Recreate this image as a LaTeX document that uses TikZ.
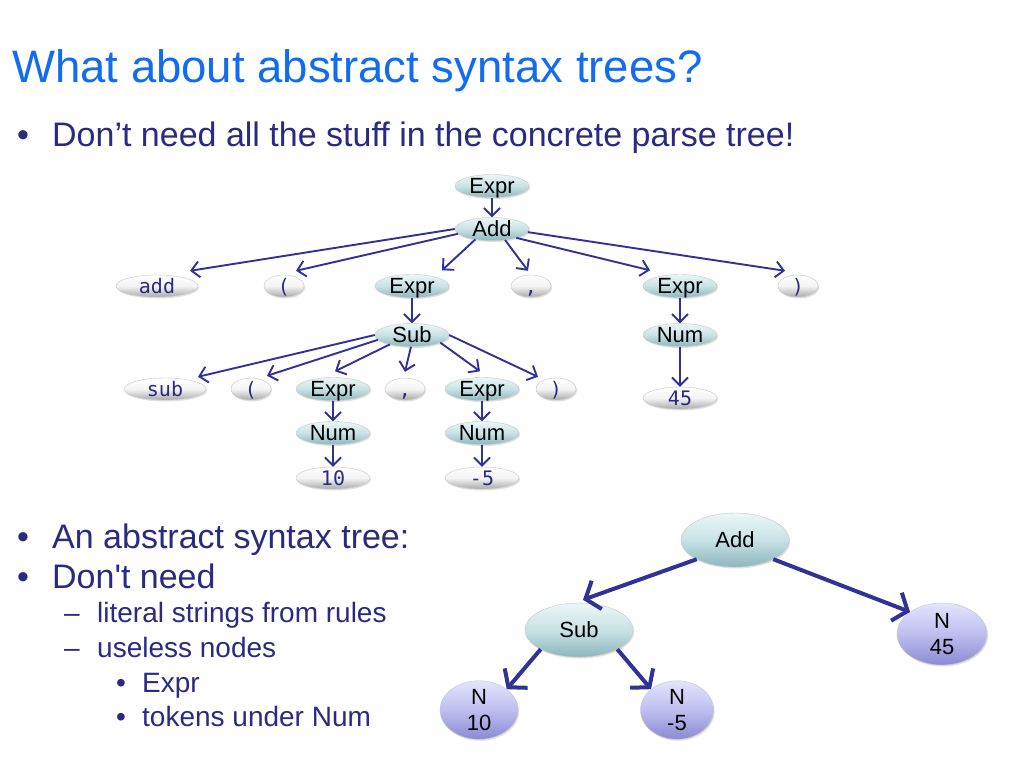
\documentclass[tikz,border=0pt]{standalone}
\usepackage{fontspec}
\setmainfont{Liberation Sans}[Ligatures=TeXOff]
\newfontfamily\monof{DejaVu Sans Mono}
\usetikzlibrary{shapes.geometric,arrows.meta,shadows,calc}
\definecolor{titleblue}{RGB}{18,108,240}
\definecolor{navy}{RGB}{42,42,130}
\definecolor{edgeblue}{RGB}{50,50,150}
\definecolor{ntTop}{RGB}{236,246,247}
\definecolor{ntMid}{RGB}{200,226,229}
\definecolor{ntBot}{RGB}{140,182,189}
\definecolor{tmMid}{RGB}{244,244,244}
\definecolor{tmBot}{RGB}{170,170,170}
\definecolor{nTop}{RGB}{228,228,252}
\definecolor{nMid}{RGB}{190,190,240}
\definecolor{nBot}{RGB}{138,138,210}
\tikzset{
  basenode/.style={ellipse, inner sep=0pt, draw=gray!45, line width=0.4pt,
    drop shadow={opacity=0.25,shadow xshift=1pt,shadow yshift=-1.5pt}},
  nt/.style={basenode, top color=ntTop, bottom color=ntBot, middle color=ntMid,
    minimum width=74pt, minimum height=23pt,
    font=\fontsize{22}{22}\selectfont, text height=15.5pt, text depth=0pt},
  tm/.style={basenode, top color=white, bottom color=tmBot, middle color=tmMid,
    minimum height=22pt, text=navy,
    font=\monof\fontsize{20}{20}\selectfont, text height=14pt, text depth=0pt},
  astnt/.style={basenode, top color=ntTop, bottom color=ntBot, middle color=ntMid,
    minimum width=108pt, minimum height=54pt, font=\fontsize{22}{22}\selectfont},
  astn/.style={basenode, top color=nTop, bottom color=nBot, middle color=nMid,
    align=center, font=\fontsize{22}{26}\selectfont},
  edge/.style={draw=edgeblue, line width=1.9pt, -{Straight Barb[length=8pt,width=16pt]}},
  astedge/.style={draw=edgeblue, line width=4pt, -{Straight Barb[length=12pt,width=30pt]}},
  txtA/.style={anchor=base west, text=navy, font=\fontsize{34}{40}\selectfont, inner sep=0pt},
  txtB/.style={anchor=base west, text=navy, font=\fontsize{28}{34}\selectfont, inner sep=0pt},
}
\begin{document}
\begin{tikzpicture}[x=1pt,y=-1pt]
\fill[white] (0,0) rectangle (1024,768);
\useasboundingbox (0,0) rectangle (1024,768);

% texts
\node[anchor=base west, inner sep=0pt, text=titleblue, font=\fontsize{45.5}{54}\selectfont] (title) at (12,82) {What about abstract syntax trees?};
\node[txtA] (b1) at (17,146) {•};
\node[txtA] (l1) at (52,146) {Don’t need all the stuff in the concrete parse tree!};
\node[txtA] (b2) at (17,548) {•};
\node[txtA] (l2) at (52,548) {An abstract syntax tree:};
\node[txtA] (b3) at (17,588) {•};
\node[txtA] (l3) at (52,588) {Don't need};
\node[txtB] (d1) at (64,622) {–};
\node[txtB] (l4) at (97,622) {literal strings from rules};
\node[txtB] (d2) at (64,657) {–};
\node[txtB] (l5) at (97,657) {useless nodes};
\node[txtB] (b4) at (116,692) {•};
\node[txtB] (l6) at (142,692) {Expr};
\node[txtB] (b5) at (116,726) {•};
\node[txtB] (l7) at (142,726) {tokens under Num};

% concrete parse tree
\node[nt] (E0) at (492,186) {Expr};
\node[nt] (A) at (492,229) {Add};
\node[tm, minimum width=82pt] (tadd) at (157,286) {add};
\node[tm, minimum width=40pt] (tlp1) at (284,286) {(};
\node[nt] (E1) at (412,286) {Expr};
\node[tm, minimum width=40pt] (tc1) at (531,286) {,};
\node[nt] (E2) at (680,286) {Expr};
\node[tm, minimum width=40pt] (trp1) at (798,286) {)};
\node[nt] (S) at (412,335) {Sub};
\node[nt] (N2) at (680,335) {Num};
\node[tm, minimum width=74pt] (t45) at (680,398) {45};
\node[tm, minimum width=82pt] (tsub) at (165,389) {sub};
\node[tm, minimum width=40pt] (tlp2) at (251,389) {(};
\node[nt] (E3) at (333,389) {Expr};
\node[tm, minimum width=40pt] (tc2) at (405,389) {,};
\node[nt] (E4) at (482,389) {Expr};
\node[tm, minimum width=40pt] (trp2) at (556,389) {)};
\node[nt] (N3) at (333,433) {Num};
\node[nt] (N4) at (482,433) {Num};
\node[tm, minimum width=74pt] (t10) at (333,478) {10};
\node[tm, minimum width=74pt] (tm5) at (482,478) {-5};

\draw[edge] (E0) -- (A);
\draw[edge] (A.180) -- ($(tadd.north)+(33,-4)$);
\draw[edge] (A.188) -- ($(tlp1.north)+(12,-4)$);
\draw[edge] (A.212) -- ($(E1.north)+(30,-4)$);
\draw[edge] (A.320) -- ($(tc1.north)+(-3,-4)$);
\draw[edge] (A.340) -- ($(E2.north)+(-30,-4)$);
\draw[edge] (A.355) -- ($(trp1.north)+(-13,-4)$);
\draw[edge] (E1) -- (S);
\draw[edge] (E2) -- (N2);
\draw[edge] (N2) -- (t45);
\draw[edge] (S.180) -- ($(tsub.north)+(33,-1)$);
\draw[edge] (S.188) -- ($(tlp2.north)+(16,-2)$);
\draw[edge] (S.203) -- ($(E3.north)+(2,-6)$);
\draw[edge] (S.265) -- ($(tc2.north)+(0,-6)$);
\draw[edge] (S.345) -- ($(E4.north)+(-2,-6)$);
\draw[edge] (S.0) -- ($(trp2.north)+(-18,-1)$);
\draw[edge] (E3) -- (N3);
\draw[edge] (N3) -- (t10);
\draw[edge] (E4) -- (N4);
\draw[edge] (N4) -- (tm5);

% abstract syntax tree
\node[astnt] (AA) at (735,540) {Add};
\node[astnt] (AS) at (579,630) {Sub};
\node[astn, minimum width=90pt, minimum height=62pt] (N45) at (942,634) {N\\45};
\node[astn, minimum width=78pt, minimum height=54pt] (N10) at (479,710) {N\\10};
\node[astn, minimum width=73pt, minimum height=55pt] (Nm5) at (677,710) {N\\-5};

\draw[astedge] (AA.south west) -- ($(AS.north)+(4,-3)$);
\draw[astedge] (AA.south east) -- (N45.north west);
\draw[astedge] (AS.south west) -- (N10.north east);
\draw[astedge] (AS.south east) -- (Nm5.north west);
\end{tikzpicture}
\end{document}
